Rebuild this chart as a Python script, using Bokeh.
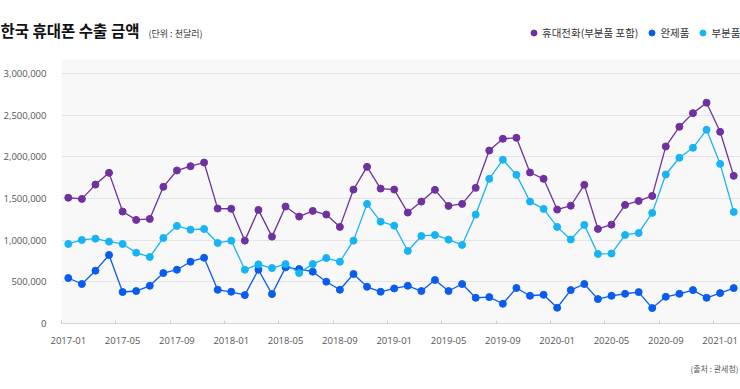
from bokeh.plotting import figure
from bokeh.layouts import column
from bokeh.models import FixedTicker, NumeralTickFormatter, Label, Legend, LegendItem, Range1d
from bokeh.embed import file_html
from bokeh.resources import INLINE

months = [f"{y}-{m:02d}" for y in range(2017, 2022) for m in range(1, 13)][:50]

total = [1510000, 1496000, 1668000, 1809000, 1344000, 1244000, 1256000, 1641000, 1837000, 1889000, 1933000, 1380000,
         1378000, 995000, 1364000, 1043000, 1404000, 1284000, 1352000, 1308000, 1160000, 1608000, 1881000, 1620000,
         1608000, 1332000, 1464000, 1605000, 1412000, 1436000, 1629000, 2077000, 2218000, 2230000, 1813000, 1737000,
         1368000, 1414000, 1665000, 1135000, 1187000, 1424000, 1472000, 1532000, 2126000, 2362000, 2526000, 2651000,
         2302000, 1773000]

complete = [546000, 474000, 634000, 823000, 378000, 390000, 453000, 606000, 646000, 742000, 790000, 405000,
            381000, 341000, 646000, 353000, 674000, 654000, 622000, 502000, 405000, 594000, 441000, 381000,
            421000, 453000, 390000, 522000, 390000, 474000, 309000, 317000, 237000, 426000, 333000, 345000,
            189000, 401000, 474000, 293000, 333000, 357000, 377000, 185000, 321000, 357000, 401000, 309000,
            365000, 425000]

parts = [955000, 1003000, 1019000, 983000, 955000, 850000, 799000, 1027000, 1172000, 1127000, 1135000, 967000,
         995000, 646000, 710000, 666000, 714000, 606000, 714000, 786000, 742000, 995000, 1436000, 1223000,
         1175000, 871000, 1051000, 1063000, 1007000, 943000, 1308000, 1737000, 1966000, 1785000, 1464000, 1376000,
         1160000, 1009000, 1184000, 835000, 840000, 1063000, 1087000, 1328000, 1789000, 1990000, 2110000, 2326000,
         1917000, 1340000]

series = [total, complete, parts]
series_names = ["휴대전화(부분품 포함)", "완제품", "부분품"]
series_colors = ["#7030a0", "#0a5cf0", "#16b4f5"]
y_ticks = [0, 500000, 1000000, 1500000, 2000000, 2500000, 3000000]
title_text = "한국 휴대폰 수출 금액"
unit_text = "(단위 : 천달러)"
source_text = "(출처 : 관세청)"

KR = "Noto Sans CJK KR"
NUM = "Open Sans"
W = 740
HEAD_H, MAIN_H, FOOT_H = 50, 300, 39


def blank(h):
    f = figure(width=W, height=h, output_backend="svg", toolbar_location=None,
               x_range=Range1d(0, W), y_range=Range1d(h, 0),
               x_axis_location=None, y_axis_location=None, min_border=0)
    f.outline_line_color = None
    f.xgrid.visible = False
    f.ygrid.visible = False
    f.frame_align = False
    return f


idx = list(range(len(months)))

# ---- header: title + legend
head = blank(HEAD_H)
head.add_layout(Label(x=0, y=29, text=title_text, text_font=KR, text_font_size="15.5px",
                      text_font_style="bold", text_color="#111111", text_baseline="middle"))
head.add_layout(Label(x=148, y=33, text=unit_text, text_font=KR, text_font_size="9px",
                      text_color="#333333", text_baseline="middle"))
leg_r = []
for vals, col in zip(series, series_colors):
    # legend key renderers only (not drawn: the chart marks are in the main figure)
    leg_r.append(head.scatter(x=idx, y=vals, size=7, fill_color=col, line_color=col, visible=False))
legend = Legend(items=[LegendItem(label=n, renderers=[r]) for n, r in zip(series_names, leg_r)],
                orientation="horizontal", location=(526, 10),
                background_fill_alpha=0, border_line_color=None,
                inactive_fill_alpha=0,
                label_text_font=KR, label_text_font_size="10.5px", label_text_color="#333333",
                glyph_width=15, glyph_height=15, label_height=15, label_width=10,
                label_standoff=1, spacing=6, padding=0, margin=0)
head.add_layout(legend)

# ---- main chart
p = figure(width=W, height=MAIN_H, output_backend="svg", toolbar_location=None,
           x_range=Range1d(-0.5, len(months) - 0.5), y_range=Range1d(0, 3170000),
           min_border_left=56, min_border_right=0, min_border_top=9, min_border_bottom=27,
           background_fill_color="#f8f8f8", border_fill_color="white")
p.frame_align = False
p.outline_line_color = None
p.xgrid.grid_line_color = None
p.ygrid.grid_line_color = "#e4e4e4"

p.yaxis.ticker = FixedTicker(ticks=y_ticks)
p.yaxis.formatter = NumeralTickFormatter(format="0,0")
p.yaxis.axis_line_color = None
p.yaxis.major_tick_line_color = None
p.yaxis.minor_tick_line_color = None
p.yaxis.major_label_text_font = NUM
p.yaxis.major_label_text_font_size = "9.5px"
p.yaxis.major_label_text_color = "#555555"
p.yaxis.major_label_standoff = 9

major = list(range(0, len(months), 4))
minor = [i - 0.5 for i in major]
p.xaxis.ticker = FixedTicker(ticks=major, minor_ticks=minor)
p.xaxis.major_label_overrides = {i: months[i] for i in major}
p.xaxis.axis_line_color = "#d6d6d6"
p.xaxis.major_tick_line_color = None
p.xaxis.minor_tick_line_color = "#cccccc"
p.xaxis.minor_tick_in = 3
p.xaxis.minor_tick_out = 0
p.xaxis.major_label_text_font = NUM
p.xaxis.major_label_text_font_size = "9.5px"
p.xaxis.major_label_text_color = "#555555"
p.xaxis.major_label_standoff = 7

for vals, col in zip(series, series_colors):
    p.line(idx, vals, line_color=col, line_width=1.3)
    p.scatter(idx, vals, size=7, fill_color=col, line_color=col)

# ---- footer
foot = blank(FOOT_H)
foot.add_layout(Label(x=738, y=18, text=source_text, text_font=KR, text_font_size="8px",
                      text_color="#555555", text_baseline="middle", text_align="right"))

layout = column(head, p, foot, spacing=0)
open("out.html", "w").write(file_html(layout, INLINE))
